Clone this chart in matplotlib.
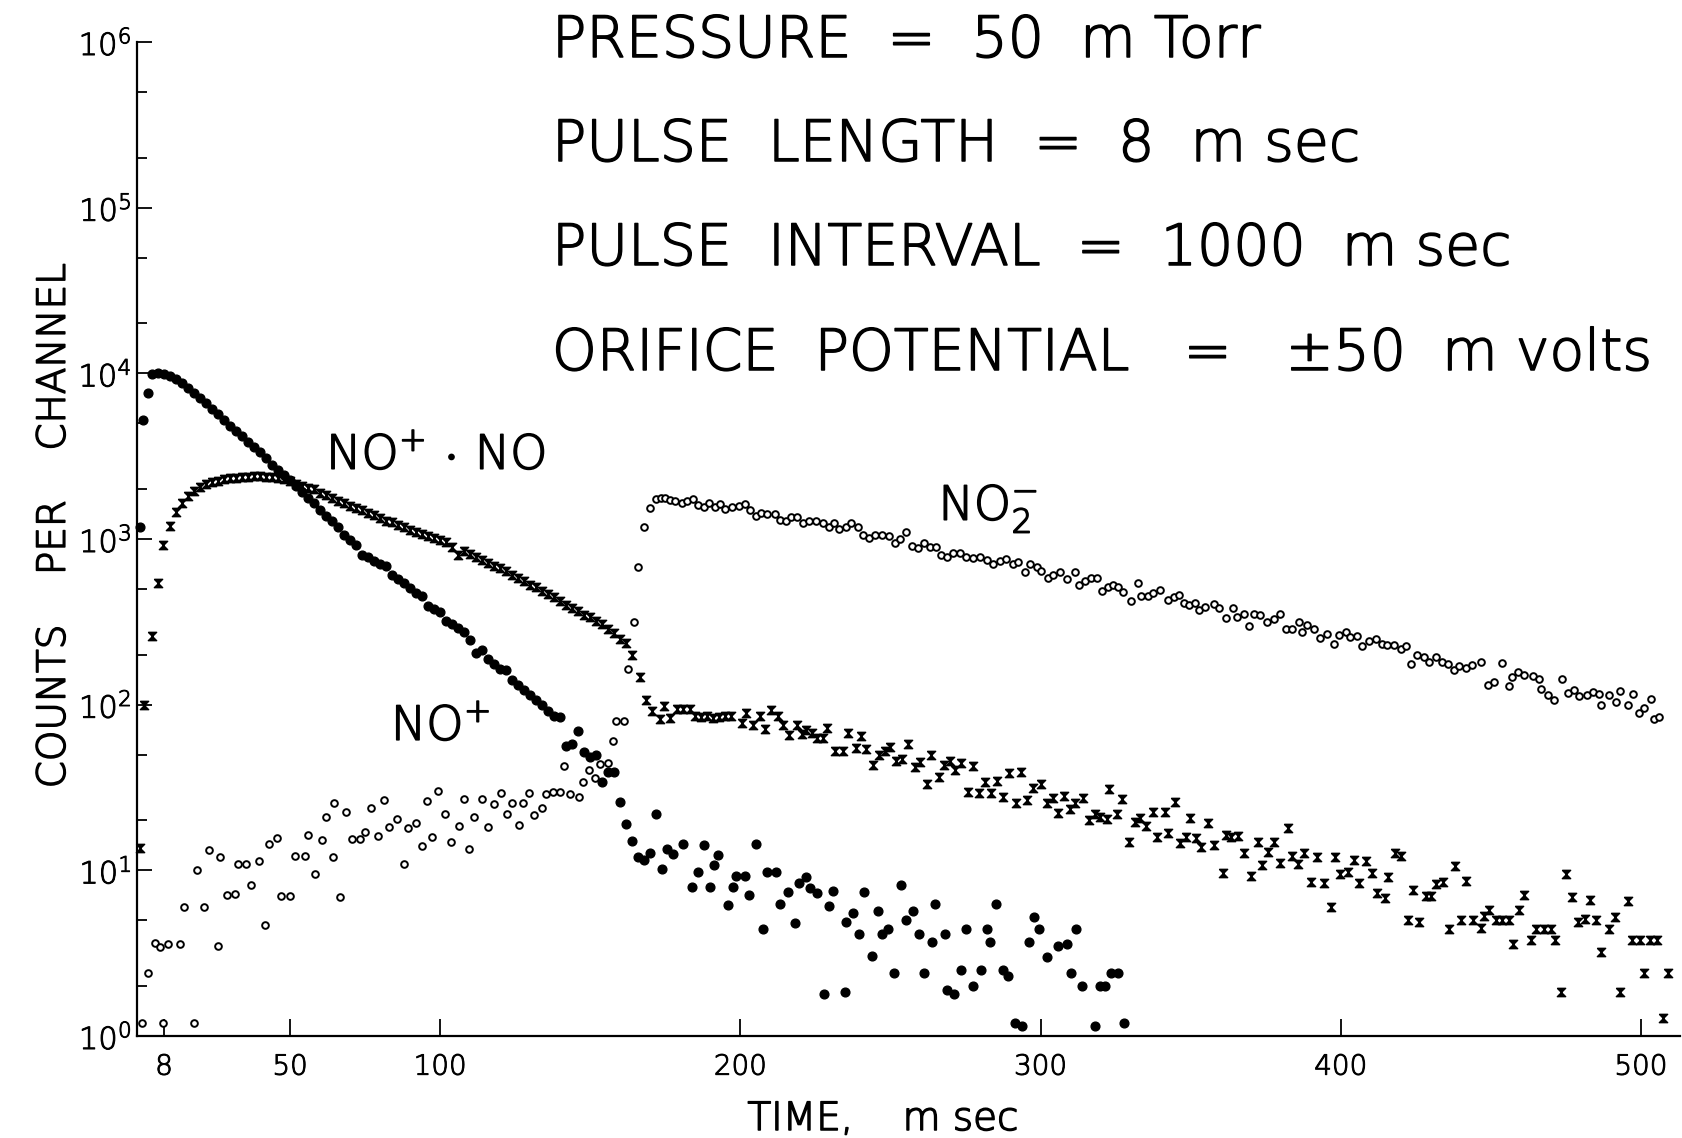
import matplotlib
matplotlib.use('Agg')
import matplotlib.pyplot as plt
import matplotlib.patheffects as pe
from matplotlib.ticker import LogLocator, NullFormatter

# NO+ (filled dots)
nop_t = [0, 1, 2.5, 4, 6, 8, 10, 12, 14, 16, 18, 20, 22, 24, 26, 28, 30, 32, 34, 36,
         38, 40, 42, 44, 46, 48, 50, 52, 54, 56, 58, 60, 62, 64, 66, 68, 70, 72, 74, 76,
         78, 80, 82, 84, 86, 88, 90, 92, 94, 96, 98, 100, 102, 104, 106, 108, 110, 112, 114, 116,
         118, 120, 122, 124, 126, 128, 130, 132, 134, 136, 138, 140, 142, 144, 146, 148, 150, 152, 154, 156,
         158, 160, 162, 164, 166, 168, 170, 172, 174, 175.5, 177.5, 181, 184, 186, 188, 190, 191.2, 192.5,
         196, 197.5, 198.4, 201.6, 203, 205.3, 207.5, 209, 212, 213.2, 215.8, 218.3, 219.4, 221.7, 223.2, 225.6,
         227.8, 229.5, 231, 234.8, 235.1, 237.4, 239.6, 241.3, 243.8, 245.7, 247.2, 249.2, 251.2, 253.5, 255.1, 257.4,
         259.4, 261.3, 263.9, 264.8, 268, 268.9, 271.3, 273.6, 275.3, 277.6, 280.3, 282, 283.1, 285.3, 287.6, 289.2,
         291.4, 293.9, 296.2, 297.9, 299.4, 302.3, 305.9, 308.7, 310.1, 311.8, 313.7, 318.2, 319.8, 321.5, 323.5, 325.9,
         327.9]
nop_c = [1180, 5200, 7600, 9900, 10000, 9900, 9600, 9300, 8700, 8100, 7600, 7100, 6600, 6100, 5650, 5200, 4800, 4500, 4200, 3850,
         3600, 3350, 3100, 2800, 2600, 2450, 2270, 2100, 1930, 1760, 1650, 1500, 1380, 1280, 1180, 1060, 990, 920, 800, 775,
         740, 710, 690, 610, 570, 540, 505, 470, 455, 395, 380, 362, 318, 305, 290, 276, 245, 205, 215, 188,
         175, 165, 163, 140, 132, 122, 114, 106, 100, 91, 86, 84, 56, 58, 69, 52, 48, 50, 34, 39,
         39, 26, 19, 15, 12, 11.6, 12.8, 22, 10.2, 13.4, 12.5, 14.4, 7.9, 9.8, 14.2, 7.9, 10.7, 12.4,
         6.2, 7.9, 9.2, 9.2, 7.1, 14.4, 4.4, 9.8, 9.8, 6.3, 7.4, 4.8, 8.4, 9.1, 7.8, 7.3,
         1.8, 6.1, 7.5, 1.85, 4.9, 5.5, 4.1, 7.4, 3.05, 5.7, 4.1, 4.4, 2.4, 8.2, 5.0, 5.7,
         4.1, 2.4, 3.7, 6.3, 4.1, 1.9, 1.8, 2.5, 4.4, 2.0, 2.5, 4.4, 3.7, 6.3, 2.5, 2.3,
         1.2, 1.15, 3.7, 5.2, 4.4, 3.0, 3.5, 3.6, 2.4, 4.4, 2.0, 1.15, 2.0, 2.0, 2.4, 2.4,
         1.2]

# NO+.NO (x markers)
dim_t = [0, 1.2, 4.1, 6.1, 7.7, 10, 12, 14, 16, 18, 20, 22, 24, 26, 28, 30, 32, 34, 36, 38,
         40, 42, 44, 46, 48, 50, 52, 54, 56, 58, 60, 62, 64, 66, 68, 70, 72, 74, 76, 78,
         80, 82, 84, 86, 88, 90, 92, 94, 96, 98, 100, 102, 104, 106, 108, 110, 112, 114, 116, 118,
         120, 122, 124, 126, 128, 130, 132, 134, 136, 138, 140, 142, 144, 146, 148, 150, 152, 154, 156, 158,
         160, 162, 164, 166.5, 168.5, 170.5, 173.3, 174.6, 176.6, 178.8, 181, 183.2, 185, 187, 189, 191,
         193, 195, 197, 200.6, 202, 204.2, 206.4, 208.1, 210.3, 212.6, 214.2, 216.2, 218.7, 220.4, 222, 223.7,
         225.4, 227.6, 228.9, 231.5, 234.2, 235.9, 238.4, 240.1, 242, 244.2, 246.2, 248.1, 249.8, 251.8, 253.7, 255.9,
         258.1, 259.8, 262, 263.6, 266.2, 267.7, 269.7, 271.4, 273.6, 275.9, 277.5, 279.6, 281.5, 283.4, 285.6, 287.6,
         289.6, 291.8, 293.5, 295.4, 297.4, 300, 302.2, 304.2, 305.9, 307.8, 309.8, 311.4, 314.2, 316.2, 318.1, 319.8,
         322, 322.9, 325.3, 327, 329.3, 331.5, 333.2, 335.2, 337.4, 338.7, 341.3, 342.6, 344.9, 346.5, 348.4, 349.9,
         351.8, 353.4, 355.9, 357.9, 360.7, 361.8, 363.5, 365.9, 367.9, 370.1, 372.3, 373.8, 375.7, 377.9, 379.9, 382.3,
         383.7, 385.9, 387.9, 390.1, 392.1, 394.4, 396.6, 398.2, 399.6, 402.3, 404.3, 406.2, 408.4, 410.3, 412.1, 414.6,
         415.7, 417.9, 420.1, 422.3, 424.1, 425.9, 428.4, 430.1, 431.8, 434, 436.2, 437.9, 440.1, 441.8, 444, 446.8,
         447.7, 449.3, 451.8, 453.8, 455.9, 457.3, 459.3, 461.2, 463.4, 465.1, 467.7, 470.1, 471.2, 473.2, 475.1, 477,
         479, 481.3, 482.9, 485.1, 486.8, 489.3, 491.5, 493, 495.6, 496.9, 499.7, 501.1, 502.9, 505.4, 507.3, 509]
dim_c = [13.6, 100, 259, 540, 919, 1200, 1460, 1640, 1815, 1950, 2060, 2140, 2200, 2250, 2290, 2320, 2350, 2370, 2380, 2385,
         2385, 2380, 2370, 2330, 2290, 2230, 2160, 2090, 2040, 1990, 1900, 1840, 1770, 1700, 1650, 1590, 1540, 1500, 1440, 1390,
         1330, 1290, 1260, 1220, 1180, 1140, 1100, 1070, 1040, 1015, 985, 960, 900, 800, 845, 810, 775, 745, 720, 690,
         665, 640, 610, 585, 560, 530, 510, 485, 465, 445, 420, 400, 385, 370, 350, 340, 320, 305, 285, 270,
         250, 235, 200, 146, 107, 91, 81.5, 98.5, 82.7, 93.7, 93.7, 93.7, 85, 84, 85, 83,
         84, 86, 85, 77, 88.6, 75.3, 85, 71, 92.8, 85, 75, 65.6, 75, 66.5, 70, 67,
         62.6, 62.6, 72, 52.5, 52.5, 67, 55, 65, 54, 43, 49.6, 52.5, 55.7, 45.7, 46.8, 57.8,
         42.2, 45.2, 33, 49.6, 36.4, 43, 45.8, 40.3, 44.2, 29.8, 42.7, 29.2, 34.3, 29.2, 34.7, 27.6,
         38.8, 25.6, 39.4, 26.6, 31.3, 33.2, 25.4, 27.2, 22.1, 28.2, 23.4, 25.4, 27.2, 20.1, 22, 21,
         20.5, 30.8, 22, 27, 14.9, 19.6, 20.6, 18.5, 22.6, 16, 22.6, 16.9, 26, 14.6, 15.8, 20.6,
         15.6, 13.9, 19.2, 14.3, 9.7, 16.3, 16, 16.2, 12.8, 9.2, 14.9, 10.8, 12.9, 14.9, 11.1, 17.9,
         12.2, 10.9, 12.7, 8.5, 12, 8.4, 6, 12, 9.5, 9.8, 11.5, 8.4, 11.4, 9.7, 7.3, 6.8,
         9.1, 12.8, 12.2, 5.0, 7.6, 4.9, 7, 7, 8.3, 8.5, 4.4, 10.6, 5, 8.6, 5, 4.5,
         5.3, 5.8, 5, 5, 5, 3.6, 5.8, 7.1, 3.8, 4.4, 4.4, 4.4, 3.8, 1.85, 9.5, 6.9,
         4.9, 5.1, 6.6, 5, 3.2, 4.4, 5.2, 1.85, 6.5, 3.8, 3.8, 2.4, 3.8, 3.8, 1.28, 2.4]

# NO2- (open circles)
no2_t = [0.6, 2.8, 4.9, 6.6, 7.8, 9.4, 13.3, 14.6, 17.9, 19.1, 21.3, 23, 26, 26.6, 29.1, 31.5, 32.7, 35.4, 37.1, 39.6,
         41.8, 43.1, 45.6, 47.1, 49.9, 51.6, 54.9, 56, 58.2, 60.7, 61.8, 64.3, 64.5, 66.5, 68.7, 70.7, 73.4, 75.1, 77.1, 79.3,
         81.2, 83, 85.7, 87.9, 89.4, 91.9, 94, 95.5, 97.2, 99.2, 101.6, 103.6, 106.1, 108, 109.7, 111.4, 113.9, 115.9, 117.8, 120.2,
         122.3, 123.9, 126.2, 127.6, 129.6, 131.4, 134, 135.1, 137.7, 139.9, 141.2, 143.4, 146.2, 147.7, 149.6, 151.5, 153.3, 155.9, 157.7, 158.7,
         161.3, 162.6, 164.4, 166, 168, 170, 172, 173.5, 175, 176.6, 178.2, 180.4, 182.3, 184.3, 186, 187.8, 189.7, 191.6, 193.1, 195,
         197.3, 199.5, 201.7, 203.2, 205.1, 206.8, 209, 211.5, 213.3, 215.2, 216.8, 219, 221, 223, 225.2, 227.4, 229.6, 231.1, 233, 235.2,
         236.9, 239.1, 240.8, 243, 245, 247.2, 249.4, 251.4, 253.1, 255.3, 257, 259.2, 261.2, 263.1, 265.3, 266.8, 268.7, 270.9, 273.1, 275.3,
         277.6, 279.8, 282, 284.2, 286.4, 288.6, 290.8, 292.5, 294.8, 296.4, 298.7, 300.3, 302.6, 304.2, 306.4, 308.7, 311.4, 312.9, 314.8, 316.8,
         318.7, 320.3, 322.3, 324.2, 325.9, 327.6, 330.1, 332.3, 333.6, 335.9, 337.6, 339.8, 342.3, 344.4, 346.1, 347.7, 349.4, 351.4, 352.9, 354.9,
         357.7, 359.3, 361.6, 364, 365.4, 367.7, 369.3, 371, 373.2, 375.4, 377.7, 379.6, 381.6, 383.8, 386.2, 387.1, 388.8, 391, 393.2, 395.4,
         397.7, 399.3, 401.6, 403.2, 405.4, 407.2, 409.4, 411.6, 413.6, 415.5, 417.7, 420, 421.6, 423.5, 425.5, 427.7, 429.4, 431.6, 433.6, 435.8,
         437.7, 439.4, 441.6, 443.8, 446.6, 448.9, 451.1, 453.8, 455.9, 457.2, 458.9, 461.1, 463.9, 466.1, 466.7, 468.9, 471.1, 473.7, 475.6, 477.8,
         479.5, 481.9, 483.9, 486.1, 486.7, 489.2, 491.7, 493, 495.6, 497.2, 499.2, 501.1, 503.3, 504.4, 506.1]
no2_c = [1.2, 2.4, 3.66, 3.46, 1.2, 3.6, 3.6, 6, 1.2, 10, 6, 13.3, 3.5, 12.1, 7.1, 7.2, 10.9, 10.9, 8.2, 11.4,
         4.7, 14.4, 15.7, 7, 7, 12.2, 12.2, 16.3, 9.5, 15.2, 20.9, 12.1, 25.4, 6.9, 22.4, 15.4, 15.4, 17, 23.7, 16.1,
         26.6, 18.2, 20.4, 10.9, 17.9, 19.4, 14.1, 26.3, 16, 30.1, 21.8, 14.9, 18.5, 26.9, 13.4, 21, 27, 18.3, 25.2, 29.2,
         21.8, 25.4, 18.9, 25.4, 29.2, 21.6, 23.9, 28.7, 29.6, 29.6, 42.6, 28.7, 27.8, 34.3, 40.3, 35.9, 43.6, 44.7, 60.3, 79.3,
         79.3, 164, 317, 673, 1185, 1530, 1740, 1760, 1758, 1720, 1700, 1640, 1700, 1740, 1603, 1552, 1660, 1552, 1630, 1508,
         1552, 1580, 1630, 1490, 1375, 1440, 1420, 1410, 1300, 1280, 1350, 1350, 1242, 1290, 1290, 1242, 1185, 1242, 1143, 1185,
         1242, 1180, 1056, 1017, 1060, 1056, 1040, 948, 1000, 1105, 906, 877, 948, 890, 900, 800, 774, 826, 818, 781,
         764, 774, 745, 706, 739, 753, 706, 728, 634, 706, 680, 640, 578, 606, 634, 571, 634, 527, 560, 578,
         578, 487, 515, 527, 515, 480, 424, 540, 452, 452, 470, 492, 428, 444, 459, 412, 399, 412, 372, 390,
         408, 381, 335, 381, 336, 352, 298, 352, 346, 317, 327, 352, 286, 286, 317, 275, 302, 286, 251, 267,
         232, 263, 275, 257, 259, 226, 243, 248, 232, 229, 229, 216, 226, 175, 199, 193, 182, 195, 182, 176,
         162, 171, 166, 173, 182, 131, 137, 178, 130, 147, 158, 151, 149, 142, 124, 114, 107, 142, 118, 123,
         113, 114, 120, 116, 99.5, 114, 104, 121, 99.5, 116, 88.6, 95, 108, 81.5, 84.5]

x_ticks = [8, 50, 100, 200, 300, 400, 500]
y_ticks = [1, 10, 100, 1000, 10000, 100000, 1000000]
y_labels = [r'$\mathrm{10^{%d}}$' % i for i in range(7)]

conditions = ['PRESSURE  =  50  m Torr',
              'PULSE  LENGTH  =  8  m sec',
              'PULSE  INTERVAL  =  1000  m sec',
              'ORIFICE  POTENTIAL   =   \u00b150  m volts']

plt.rcParams['font.family'] = 'DejaVu Sans'
plt.rcParams['mathtext.fontset'] = 'custom'
plt.rcParams['mathtext.rm'] = 'DejaVu Sans:weight=ultralight'
plt.rcParams['mathtext.it'] = 'DejaVu Sans:weight=ultralight'
plt.rcParams['mathtext.bf'] = 'DejaVu Sans:weight=bold'

# pen-like strokes on the thin font
pen_big = [pe.withStroke(linewidth=1.1, foreground='black')]
pen_small = [pe.withStroke(linewidth=0.7, foreground='black')]

fig = plt.figure(figsize=(16.82, 11.38), dpi=100)
ax = fig.add_axes([137/1682, 1 - 1036/1138, (1680 - 137)/1682, (1036 - 42)/1138])

hourglass = [(-1, 1), (1, 1), (-1, -1), (1, -1), (-1, 1)]

ax.plot(nop_t, nop_c, ls='none', marker='o', ms=6.3, color='black', clip_on=False)
ax.plot(dim_t, dim_c, ls='none', marker=hourglass, ms=6, color='black',
        mec='black', mew=1.0, clip_on=False)
ax.plot(no2_t, no2_c, ls='none', marker='o', ms=4.8, mfc='white', mec='black',
        mew=1.4, clip_on=False)

ax.set_yscale('log')
ax.set_xlim(-1, 513)
ax.set_ylim(1, 1e6)

ax.spines['top'].set_visible(False)
ax.spines['right'].set_visible(False)
ax.spines['left'].set_linewidth(1.6)
ax.spines['bottom'].set_linewidth(1.6)

ax.set_xticks(x_ticks)
ax.set_xticklabels([str(v) for v in x_ticks])
ax.set_yticks(y_ticks)
ax.set_yticklabels(y_labels)
ax.yaxis.set_minor_locator(LogLocator(base=10, subs=(2, 5), numticks=20))
ax.yaxis.set_minor_formatter(NullFormatter())
ax.tick_params(axis='both', which='major', direction='in', width=1.3)
ax.tick_params(axis='x', which='major', length=12, pad=12, labelsize=20)
ax.tick_params(axis='y', which='major', length=11, pad=4, labelsize=22)
ax.tick_params(axis='y', which='minor', direction='in', length=7, width=1.3)
ax.tick_params(axis='x', which='minor', bottom=False)
for lab in ax.get_xticklabels() + ax.get_yticklabels():
    lab.set_fontweight(200)
    lab.set_path_effects(pen_small)

for s, xx, yy in [(r'$\mathrm{NO^{+}\,\cdot\,NO}$', 62, 2640),
                  (r'$\mathrm{NO^{+}}$', 83.6, 61),
                  (r'$\mathrm{NO_{2}^{-}}$', 266, 1300)]:
    ax.text(xx, yy, s, fontsize=34, ha='left', va='baseline', path_effects=pen_big)

baselines = [1 - 57/1138, 1 - 161/1138, 1 - 265/1138, 1 - 370/1138]
for line, yb in zip(conditions, baselines):
    fig.text(552/1682, yb, line, fontsize=41, fontweight=200, ha='left', va='baseline',
             path_effects=pen_big)

fig.text(0.032, 0.538, 'COUNTS    PER    CHANNEL', fontsize=28, fontweight=200, rotation=90,
         ha='center', va='center', path_effects=pen_big)
fig.text(883/1682, 1 - 1130/1138, 'TIME,    m sec', fontsize=28, fontweight=200,
         ha='center', va='baseline', path_effects=pen_big)

fig.savefig('out.png', dpi=100)
